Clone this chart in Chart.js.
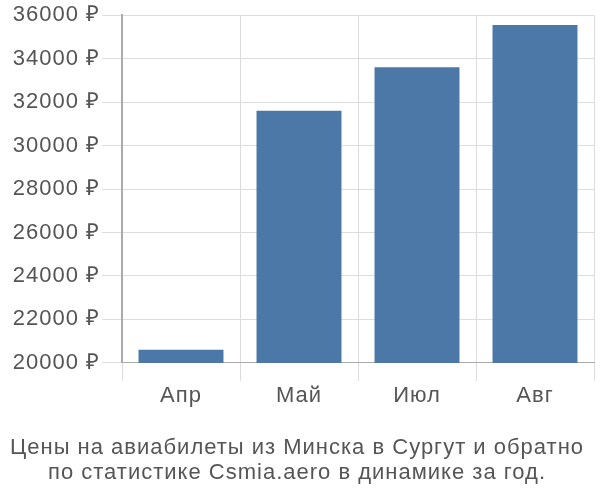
<!DOCTYPE html>
<html><head><meta charset="utf-8">
<script src="https://cdn.jsdelivr.net/npm/chart.js@4/dist/chart.umd.min.js"></script>
<style>html,body{margin:0;padding:0;background:#fff}#wrap{width:600px;height:500px}</style>
</head><body><div id="wrap"><canvas id="c" width="600" height="500"></canvas></div>
<script>
const categories = ["Апр", "Май", "Июл", "Авг"];
const prices = [20600, 31600, 33600, 35550];
const yTicks = [20000, 22000, 24000, 26000, 28000, 30000, 32000, 34000, 36000];
const titleLines = ["Цены на авиабилеты из Минска в Сургут и обратно", "по статистике Csmia.aero в динамике за год."];

const FONT = 'Liberation Sans, Arial, sans-serif';
function setSpacing(chart) { if ('letterSpacing' in chart.ctx) chart.ctx.letterSpacing = '1px'; }
const spacingPlugin = {
  id: 'spacing',
  beforeUpdate: setSpacing,
  beforeLayout: setSpacing,
  beforeDraw: setSpacing
};
new Chart(document.getElementById('c'), {
  type: 'bar',
  plugins: [spacingPlugin],
  data: { labels: categories, datasets: [{ data: prices, backgroundColor: '#4c78a8', barPercentage: 0.9, categoryPercentage: 0.8 }] },
  options: {
    responsive: false, animation: false,
    layout: { padding: { left: 0, right: 6, top: 5, bottom: 15 } },
    plugins: {
      legend: { display: false }, tooltip: { enabled: false },
      title: { display: true, position: 'bottom', text: titleLines, color: '#555', font: { family: FONT, size: 22, weight: 'normal', lineHeight: 1.13 }, padding: { top: 24, bottom: 0 } }
    },
    scales: {
      x: {
        grid: { color: '#ddd', lineWidth: 1, tickLength: 18, offset: true },
        border: { color: '#aaa' },
        ticks: { color: '#555', font: { family: FONT, size: 22 }, padding: 2 }
      },
      y: {
        min: 20000, max: 36000,
        afterBuildTicks: (ax) => { ax.ticks = yTicks.map(v => ({ value: v })); },
        afterFit: (ax) => { ax.width = 122; },
        grid: { color: '#ddd', lineWidth: 1, tickLength: 20 },
        border: { color: '#aaa', width: 2 },
        ticks: { color: '#555', font: { family: FONT, size: 22 }, padding: 2, callback: v => v + ' ₽' }
      }
    }
  }
});
</script></body></html>
